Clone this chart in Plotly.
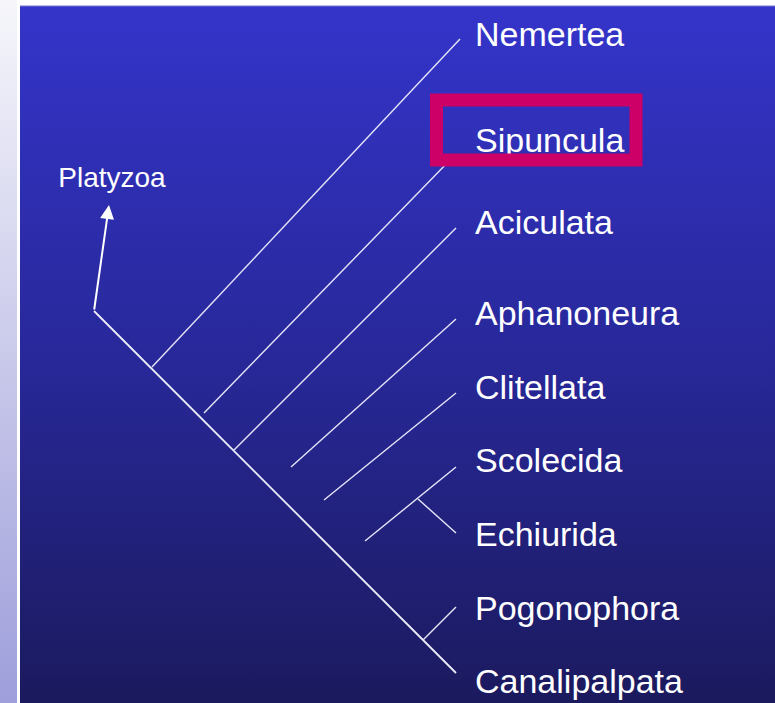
import plotly.graph_objects as go

# ---- data ----
taxa = ["Nemertea", "Sipuncula", "Aciculata", "Aphanoneura", "Clitellata",
        "Scolecida", "Echiurida", "Pogonophora", "Canalipalpata"]
label_y = [37, 143, 225, 316, 390, 463, 537, 611, 684]
label_x = [475] * len(taxa)

# branch segments (start -> tip)
branch_names = ["Nemertea", "Sipuncula", "Aciculata", "Aphanoneura", "Clitellata",
                "Scolecida", "Echiurida", "Pogonophora"]
branch_x0 = [152, 204, 234, 291, 324, 365, 418, 423]
branch_y0 = [367, 413, 450, 467, 500, 541, 499, 640]
branch_x1 = [460, 452, 456, 456, 456, 456, 456, 456]
branch_y1 = [39, 158, 228, 319, 393, 467, 533, 607]

backbone_x = [94, 456]
backbone_y = [311, 673]

outgroup = "Platyzoa"
outgroup_base = (94, 311)
outgroup_tip = (109, 205)
outgroup_label = (112, 180)

highlight = "Sipuncula"

W, H = 775, 703
FONT = "Arial, Liberation Sans, sans-serif"

fig = go.Figure()

# slide backgrounds
fig.add_trace(go.Scatter(
    x=[0, 17, 17, 0, 0], y=[0, 0, H, H, 0], mode="lines", fill="toself",
    line=dict(width=0), hoverinfo="skip", showlegend=False,
    fillgradient=dict(type="vertical", start=0, stop=H,
                      colorscale=[[0, "#f6f6fb"], [1, "#9e9edb"]])))
fig.add_trace(go.Scatter(
    x=[20, W, W, 20, 20], y=[6, 6, H, H, 6], mode="lines", fill="toself",
    line=dict(width=0), hoverinfo="skip", showlegend=False,
    fillgradient=dict(type="vertical", start=6, stop=H,
                      colorscale=[[0, "#3434ca"], [0.5, "#28289a"], [1, "#1b1a5e"]])))

# backbone
fig.add_trace(go.Scatter(x=backbone_x, y=backbone_y, mode="lines",
                         line=dict(color="#eeeefa", width=1.8),
                         hoverinfo="skip", showlegend=False))
# branches
bx, by = [], []
for a, b, c, d in zip(branch_x0, branch_y0, branch_x1, branch_y1):
    bx += [a, c, None]
    by += [b, d, None]
fig.add_trace(go.Scatter(x=bx, y=by, mode="lines",
                         line=dict(color="#e6e6f8", width=1.4),
                         hoverinfo="skip", showlegend=False))

# taxon labels
fig.add_trace(go.Scatter(x=label_x, y=label_y, mode="text", text=taxa,
                         textposition="middle right",
                         textfont=dict(family=FONT, size=34, color="white"),
                         hoverinfo="skip", showlegend=False))

fig.add_trace(go.Scatter(x=[outgroup_label[0]], y=[outgroup_label[1]], mode="text",
                         text=[outgroup], textposition="middle center",
                         textfont=dict(family=FONT, size=28, color="white"),
                         hoverinfo="skip", showlegend=False))

# arrow to Platyzoa
fig.add_annotation(x=outgroup_tip[0], y=outgroup_tip[1], ax=outgroup_base[0], ay=outgroup_base[1],
                   xref="x", yref="y", axref="x", ayref="y", text="",
                   showarrow=True, arrowhead=2, arrowsize=1.4, arrowwidth=2,
                   arrowcolor="white")

# top edge line of panel
fig.add_shape(type="line", x0=20, x1=W, y0=6, y1=6, xref="x", yref="y",
              line=dict(color="#7474d2", width=1), layer="above")

# highlight box (drawn above the Sipuncula label, as in the slide)
fig.add_shape(type="rect", x0=436.5, x1=636, y0=100, y1=160,
              xref="x", yref="y", line=dict(color="#cc0066", width=13), layer="above")

fig.update_layout(
    width=W, height=H, margin=dict(l=0, r=0, t=0, b=0),
    paper_bgcolor="white", plot_bgcolor="white",
    xaxis=dict(range=[0, W], visible=False, fixedrange=True),
    yaxis=dict(range=[H, 0], visible=False, fixedrange=True),
    showlegend=False,
)
fig.write_html("out.html", config={"displayModeBar": False},
               post_script="document.body.style.margin='0';document.body.style.overflow='hidden';")
